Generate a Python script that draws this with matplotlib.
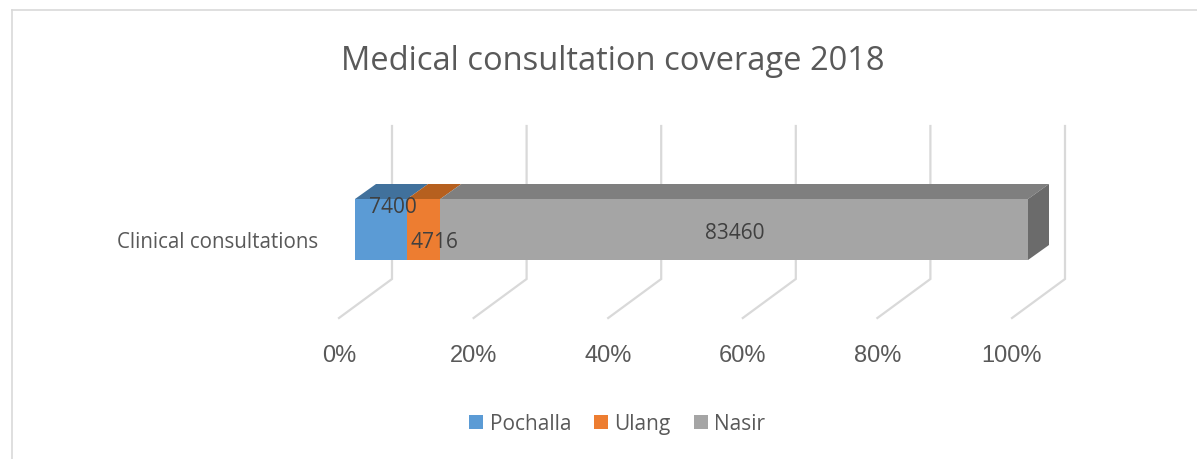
import matplotlib
matplotlib.use("Agg")
from matplotlib import pyplot as plt
from matplotlib.patches import Polygon, Rectangle

# data
category = "Clinical consultations"
series = ["Pochalla", "Ulang", "Nasir"]
values = [7400, 4716, 83460]
ticks = [0, 20, 40, 60, 80, 100]
tick_labels = ["0%", "20%", "40%", "60%", "80%", "100%"]

front_colors = ["#5B9BD5", "#ED7D31", "#A5A5A5"]
top_colors = ["#41719C", "#B6601F", "#7F7F7F"]
side_color = "#6B6B6B"
grid_color = "#D9D9D9"
text_color = "#595959"

W, H = 1197, 460
fig = plt.figure(figsize=(W / 100, H / 100), dpi=100)
ax = fig.add_axes([0, 0, 1, 1])

# pixel -> data mapping: 0..100 % spans bar front from px 355 to 1028
x0_px, x1_px = 355, 1028
ppu = (x1_px - x0_px) / 100.0
yc_px = 230.5
ax.set_xlim(-x0_px / ppu, (W - x0_px) / ppu)
ax.set_ylim(yc_px - H, yc_px)
ax.axis("off")

# 3d-ish geometry (in data units)
bar_half = 30.5
bar_dx, bar_dy = 21 / ppu, 15
grid_front_dx = (339 - x0_px) / ppu
grid_back_dx = (392 - x0_px) / ppu
grid_top, grid_floor, grid_front = yc_px - 127, yc_px - 280, yc_px - 319

for t in ticks:
    ax.plot([t + grid_back_dx, t + grid_back_dx, t + grid_front_dx],
            [grid_top, grid_floor, grid_front],
            color=grid_color, lw=1.6, solid_joinstyle="miter", zorder=1)
    
for t, lab in zip(ticks, tick_labels):
    ax.text(t + grid_front_dx, yc_px - 356, lab, ha="center", va="center",
            fontsize=17, color=text_color, family="Liberation Sans")

total = float(sum(values))
pct = [v / total * 100 for v in values]
top, bot = bar_half, -bar_half
left = 0.0
for i, p in enumerate(pct):
    right = left + p
    ax.add_patch(Rectangle((left, bot), p, top - bot, facecolor=front_colors[i],
                           edgecolor="none", zorder=3))
    ax.add_patch(Polygon([(left, top), (right, top), (right + bar_dx, top + bar_dy),
                          (left + bar_dx, top + bar_dy)],
                         facecolor=top_colors[i], edgecolor="none", zorder=3))
    if i == len(pct) - 1:
        ax.add_patch(Polygon([(right, top), (right + bar_dx, top + bar_dy),
                              (right + bar_dx, bot + bar_dy), (right, bot)],
                             facecolor=side_color, edgecolor="none", zorder=3))
    left = right

# data labels (excel puts them a bit off-centre in 3d)
label_off = [(12, 23), (11, -12), (1, -3)]
left = 0.0
for i, p in enumerate(pct):
    cx = left + p / 2 + label_off[i][0] / ppu
    ax.text(cx, label_off[i][1], str(values[i]), ha="center", va="center",
            fontsize=15, color="#404040", family="Open Sans", zorder=5)
    left += p

ax.text(-37 / ppu, yc_px - 243, category, ha="right", va="center",
        fontsize=14.8, color=text_color, family="Open Sans")

fig.text(613 / W, 1 - 62 / H, "Medical consultation coverage 2018", ha="center",
         va="center", fontsize=23.5, color=text_color, family="Open Sans")

# legend
leg = ax.legend([Rectangle((0, 0), 1, 1, facecolor=c, edgecolor="none") for c in front_colors],
                series, loc="center", bbox_to_anchor=(617 / W, 1 - 425 / H),
                bbox_transform=fig.transFigure, ncol=3, frameon=False,
                prop={"family": "Open Sans", "size": 15}, handlelength=0.68,
                handleheight=0.68, handletextpad=0.3, columnspacing=1.1)
for txt in leg.get_texts():
    txt.set_color(text_color)

# chart border (only top/left visible in crop)
fig.add_artist(plt.Line2D([12 / W, 12 / W], [0, 1 - 11 / H], color=grid_color, lw=1.2))
fig.add_artist(plt.Line2D([12 / W, 1], [1 - 11 / H, 1 - 11 / H], color=grid_color, lw=1.2))

fig.savefig("out.png", dpi=100)
